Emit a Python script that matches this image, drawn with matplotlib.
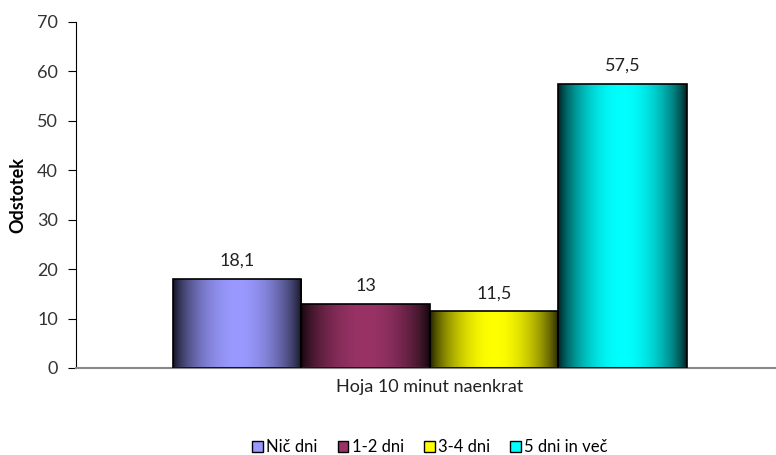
import numpy as np
import matplotlib.pyplot as plt
from matplotlib.colors import to_rgb
from matplotlib.patches import Rectangle

plt.rcParams['font.family'] = ['Lato', 'DejaVu Sans']

categories = ['Nič dni', '1-2 dni', '3-4 dni', '5 dni in več']
values = [18.1, 13, 11.5, 57.5]
value_labels = ['18,1', '13', '11,5', '57,5']
colors = ['#9999FF', '#993366', '#FFFF00', '#00FFFF']
group_label = 'Hoja 10 minut naenkrat'

fig = plt.figure(figsize=(7.76, 4.55), dpi=100)
ax = fig.add_axes([76 / 776, 87 / 455, 700 / 776, 346 / 455])

bar_w = 0.18
offsets = (np.arange(len(values)) - 1.5) * bar_w

# horizontal shading: dark at the edges, full colour in the middle
xs = np.linspace(0, 1, 200)
shade = 0.1 + 0.9 * np.sin(np.pi * xs) ** 0.7

bars = ax.bar(offsets, values, width=bar_w, color='none', edgecolor='black', linewidth=1.2, zorder=3)
for b, c in zip(bars, colors):
    rgb = np.array(to_rgb(c))
    img = shade[None, :, None] * rgb[None, None, :]
    x0, y0 = b.get_x(), b.get_y()
    im = ax.imshow(img, extent=[x0, x0 + b.get_width(), y0, y0 + b.get_height()],
                   aspect='auto', zorder=2, interpolation='bilinear')
    im.set_clip_path(b)

for b, lab in zip(bars, value_labels):
    ax.text(b.get_x() + b.get_width() / 2, b.get_height() + 2.0, lab,
            ha='center', va='bottom', fontsize=13, color='#222222')

ax.set_xlim(-0.496, 0.485)
ax.set_ylim(0, 70)
ax.set_yticks(range(0, 71, 10))
ax.set_xticks([0])
ax.set_xticklabels([group_label], fontsize=13, color='#222222')
ax.tick_params(axis='x', length=0, pad=8)
ax.tick_params(axis='y', direction='out', length=6, labelsize=13, labelcolor='#333333', pad=7)
ax.set_ylabel('Odstotek', fontsize=13, fontweight='bold', labelpad=8)

for s in ['top', 'right']:
    ax.spines[s].set_visible(False)
ax.spines['left'].set_color('black')
ax.spines['bottom'].set_color('#888888')
ax.spines['bottom'].set_linewidth(1.5)

handles = [Rectangle((0, 0), 1, 1, facecolor=c, edgecolor='black', linewidth=1) for c in colors]
fig.legend(handles, categories, loc='center', bbox_to_anchor=(430 / 776, 1 - 447 / 455),
           ncol=4, frameon=False, fontsize=12, handlelength=0.65, handleheight=0.65,
           handletextpad=0.2, columnspacing=1.2)

fig.savefig('out.png', dpi=100)
